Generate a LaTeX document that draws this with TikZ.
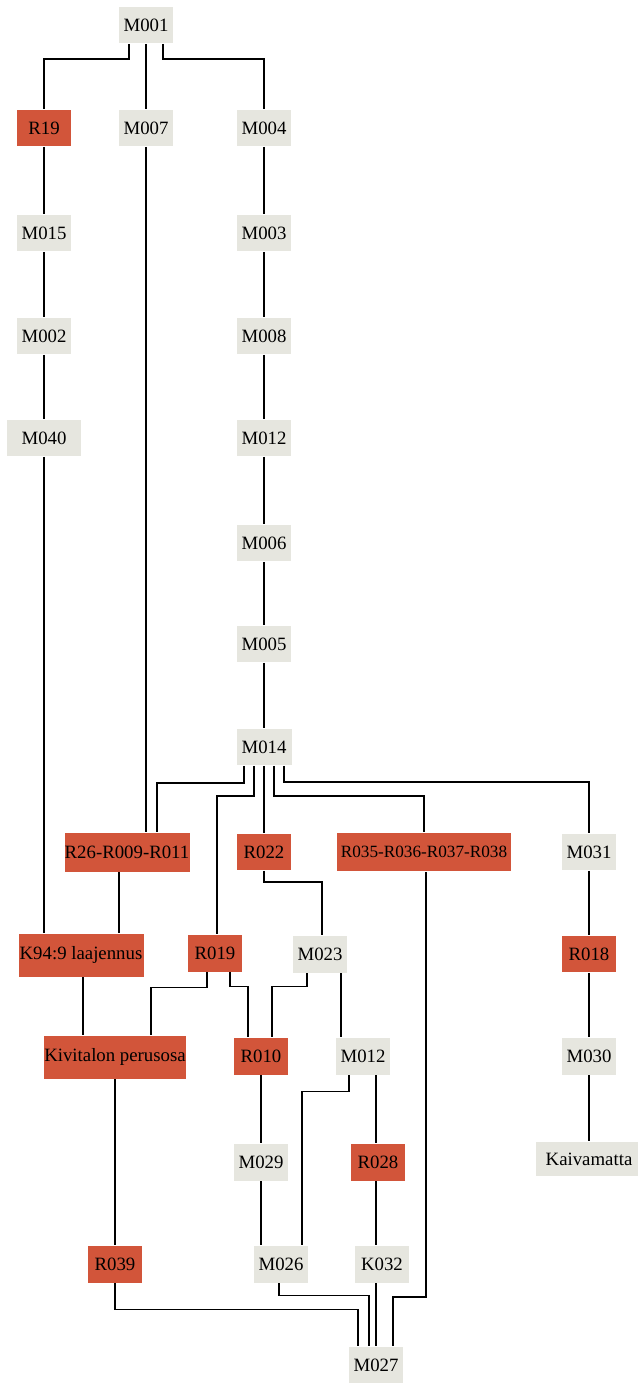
\documentclass[tikz,border=0pt]{standalone}
\usepackage{fontspec}
\setmainfont{Liberation Serif}
\definecolor{boxgrey}{HTML}{E6E6DF}
\definecolor{boxred}{HTML}{D2553A}
\begin{document}
\begin{tikzpicture}[x=1pt,y=-1pt,line width=1.8pt,
		nd/.style={minimum width=54pt,minimum height=36pt,inner sep=0pt,font=\fontsize{18.8}{21}\selectfont},
		gnd/.style={nd,fill=boxgrey},
		rnd/.style={nd,fill=boxred}]
		\useasboundingbox (0,0) rectangle (637,1383);
		
		\node[gnd] (m001) at (146,25) {M001};
		\node[rnd] (r19) at (44,128) {R19};
		\node[gnd] (m007) at (146,128) {M007};
		\node[gnd] (m004) at (264,128) {M004};
		\node[gnd] (m015) at (44,233) {M015};
		\node[gnd] (m002) at (44,336) {M002};
		\node[gnd,minimum width=74pt] (m040) at (44,438) {M040};
		\node[gnd] (m003) at (264,233) {M003};
		\node[gnd] (m008) at (264,336) {M008};
		\node[gnd] (m012a) at (264,438) {M012};
		\node[gnd] (m006) at (264,543) {M006};
		\node[gnd] (m005) at (264,644) {M005};
		\node[gnd,minimum width=55pt] (m014) at (264,747) {M014};
		
		\node[rnd,minimum width=125pt,minimum height=39pt] (r26) at (127,852) {R26-R009-R011};
		\node[rnd] (r022) at (264,852) {R022};
		\node[rnd,minimum width=174pt,minimum height=38pt,font=\fontsize{17.2}{20}\selectfont] (r035) at (424,852) {R035-R036-R037-R038};
		\node[gnd] (m031) at (589,852) {M031};
		
		\node[rnd,minimum width=125pt,minimum height=43pt] (k949) at (81,955) {K94:9 laajennus};
		\node[rnd,minimum height=37pt] (r019) at (215,953) {R019};
		\node[gnd,minimum height=37pt] (m023) at (320,954) {M023};
		\node[rnd] (r018) at (589,954) {R018};
		
		\node[rnd,minimum width=137pt,minimum height=43pt] (kivi) at (115,1057) {Kivitalon perusosa};
		\node[rnd,minimum height=37pt] (r010) at (261,1056) {R010};
		\node[gnd,minimum height=37pt] (m012b) at (363,1056) {M012};
		\node[gnd,minimum height=37pt] (m030) at (589,1056) {M030};
		
		\node[gnd,minimum height=37pt] (m029) at (261,1162) {M029};
		\node[rnd,minimum height=37pt] (r028) at (378,1162) {R028};
		\node[gnd,minimum width=106pt,minimum height=34pt] (kaiv) at (589,1159) {Kaivamatta};
		
		\node[rnd,minimum height=37pt] (r039) at (115,1264) {R039};
		\node[gnd,minimum height=37pt] (m026) at (281,1264) {M026};
		\node[gnd,minimum height=37pt] (k032) at (382,1264) {K032};
		\node[gnd] (m027) at (376,1365) {M027};
		
		\draw ([xshift=-17pt]m001.south) -- ++(0,15) -| (r19.north);
		\draw (m001) -- (m007);
		\draw ([xshift=17pt]m001.south) -- ++(0,15) -| (m004.north);
		\draw (r19) -- (m015) -- (m002) -- (m040);
		\draw (m040.south) -- (m040.south |- k949.north);
		\draw (m007.south) -- (m007.south |- r26.north);
		\draw (m004) -- (m003) -- (m008) -- (m012a) -- (m006) -- (m005) -- (m014);
		
		\draw ([xshift=-20pt]m014.south) -- ++(0,17) -| ([xshift=30pt]r26.north);
		\draw ([xshift=-10pt]m014.south) -- ++(0,30) -| ([xshift=2pt]r019.north);
		\draw (m014) -- (r022);
		\draw ([xshift=10pt]m014.south) -- ++(0,30) -| (r035.north);
		\draw ([xshift=20pt]m014.south) -- ++(0,16) -| (m031.north);
		\draw (m031) -- (r018) -- (m030) -- (kaiv);
		
		\draw ([xshift=-8pt]r26.south) -- ([xshift=-8pt]r26.south |- k949.north);
		\draw (r022.south) -- ++(0,11) -| ([xshift=2pt]m023.north);
		\draw ([xshift=2pt]k949.south) -- ([xshift=2pt]k949.south |- kivi.north);
		\draw ([xshift=-8pt]r019.south) -- ++(0,15) -| ([xshift=36pt]kivi.north);
		\draw ([xshift=15pt]r019.south) -- ++(0,14) -| ([xshift=-13pt]r010.north);
		\draw ([xshift=-13pt]m023.south) -- ++(0,13) -| ([xshift=11pt]r010.north);
		\draw ([xshift=21pt]m023.south) -- ([xshift=21pt]m023.south |- m012b.north);
		
		\draw (r010) -- (m029);
		\draw ([xshift=-14pt]m012b.south) -- ++(0,16) -| ([xshift=21pt]m026.north);
		\draw ([xshift=13pt]m012b.south) -- ([xshift=13pt]m012b.south |- r028.north);
		\draw (m029) -- (m029 |- m026.north);
		\draw ([xshift=-2pt]r028.south) -- ([xshift=-2pt]r028.south |- k032.north);
		\draw (kivi) -- (r039);
		
		\draw (r039.south) -- ++(0,26) -| ([xshift=-18pt]m027.north);
		\draw ([xshift=-2pt]m026.south) -- ++(0,12) -| ([xshift=-7pt]m027.north);
		\draw (m027.north |- k032.south) -- (m027.north);
		\draw ([xshift=2pt]r035.south) -- ++(0,425) -| ([xshift=17pt]m027.north);
\end{tikzpicture}
\end{document}
